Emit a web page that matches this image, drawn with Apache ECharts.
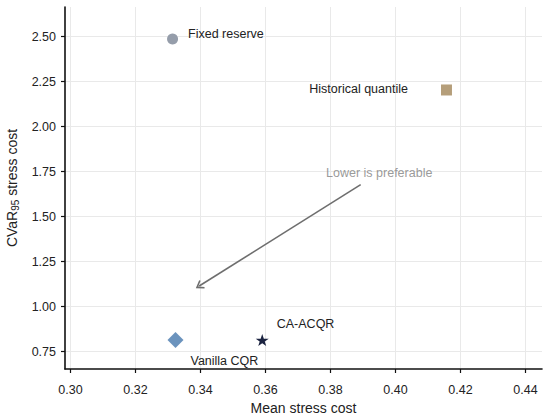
<!DOCTYPE html>
<html>
<head>
<meta charset="utf-8">
<style>
  html, body { margin: 0; padding: 0; background: #fff; }
  #chart { width: 550px; height: 419px; }
</style>
<script src="https://cdn.jsdelivr.net/npm/echarts@6/dist/echarts.min.js"></script>
</head>
<body>
<div id="chart"></div>
<script>
// method results: mean stress cost vs CVaR95 stress cost
var methods = ['Fixed reserve', 'Historical quantile', 'Vanilla CQR', 'CA-ACQR'];
var meanCost = [0.3314, 0.4157, 0.3323, 0.3590];
var cvarCost = [2.487, 2.204, 0.815, 0.815];

// tick labels
var xTicks = [0.30, 0.32, 0.34, 0.36, 0.38, 0.40, 0.42, 0.44];
var yTicks = [0.75, 1.00, 1.25, 1.50, 1.75, 2.00, 2.25, 2.50];

// annotation arrow (data units)
var arrowFrom = [0.3893, 1.678];
var arrowTo = [0.3396, 1.115];
var noteText = 'Lower is preferable';
var notePos = [0.3950, 1.743];

var starPath = 'path://M50,0 L61.8,35.1 L98.1,35.1 L68.8,56.8 L79.4,90.5 L50,69.1 L20.6,90.5 L31.2,56.8 L1.9,35.1 L38.2,35.1 Z';
var chevron = 'path://M5,0 L10,8 L8.7,9 L5,3.3 L1.3,9 L0,8 Z';

var styles = [
    { symbol: 'circle', size: 11, color: '#959daa', label: { position: 'right', distance: 10, offset: [0, -5] } },
    { symbol: 'rect', size: 11, color: '#b59e7a', label: { position: 'left', distance: 33, offset: [0, -1] } },
    { symbol: 'diamond', size: 16, color: '#6b93bd', label: { position: 'right', distance: 7, offset: [0, 21] } },
    { symbol: starPath, size: [13, 12], color: '#1b2340', label: { position: 'right', distance: 8, offset: [0, -16] } }
];

var dom = document.getElementById('chart');
var myChart = echarts.init(dom, null, { renderer: 'svg' });

var series = methods.map(function (name, i) {
    var s = styles[i];
    return {
        name: name,
        type: 'scatter',
        symbol: s.symbol,
        symbolSize: s.size,
        itemStyle: { color: s.color, opacity: 1 },
        label: {
            show: true,
            formatter: name,
            position: s.label.position,
            distance: s.label.distance,
            offset: s.label.offset,
            color: '#222',
            fontSize: 12.5,
            fontFamily: 'Liberation Sans'
        },
        data: [[meanCost[i], cvarCost[i]]]
    };
});

series.push({
    name: 'note',
    type: 'scatter',
    symbolSize: 0,
    silent: true,
    label: {
        show: true,
        position: 'inside',
        formatter: noteText,
        color: '#808080',
        fontSize: 12.5,
        fontFamily: 'Liberation Sans'
    },
    data: [notePos],
    markLine: {
        silent: true,
        symbol: ['none', chevron],
        symbolSize: [10, 8],
        label: { show: false },
        lineStyle: { color: '#6e6e6e', width: 1.6, type: 'solid' },
        data: [[{ coord: arrowFrom }, { coord: arrowTo }]]
    }
});

var option = {
    animation: false,
    grid: { left: 65, right: 8, top: 7, bottom: 50, containLabel: false, outerBoundsMode: 'none' },
    xAxis: {
        type: 'value',
        min: 0.2983,
        max: 0.4451,
        name: 'Mean stress cost',
        nameLocation: 'middle',
        nameGap: 32,
        nameTextStyle: { color: '#222', fontSize: 14, fontFamily: 'Liberation Sans' },
        axisLine: { show: true, onZero: false, lineStyle: { color: '#111', width: 1.6 } },
        axisTick: { show: true, length: 4, customValues: xTicks, lineStyle: { color: '#111', width: 1.2 } },
        axisLabel: {
            customValues: xTicks,
            margin: 14,
            color: '#222',
            fontSize: 12.5,
            fontFamily: 'Liberation Sans',
            formatter: function (v) { return v.toFixed(2); }
        },
        splitLine: { show: true, lineStyle: { color: '#e9e9e9', width: 1 } }
    },
    yAxis: {
        type: 'value',
        min: 0.654,
        max: 2.665,
        name: '{a|CVaR}{b|95}{a| stress cost}',
        nameLocation: 'middle',
        nameGap: 44,
        nameTextStyle: {
            color: '#222',
            fontFamily: 'Liberation Sans',
            rich: {
                a: { fontSize: 14, lineHeight: 18, color: '#222', fontFamily: 'Liberation Sans' },
                b: { fontSize: 10, lineHeight: 10, verticalAlign: 'bottom', color: '#222', fontFamily: 'Liberation Sans' }
            }
        },
        axisLine: { show: true, onZero: false, lineStyle: { color: '#111', width: 1.6 } },
        axisTick: { show: true, length: 4, customValues: yTicks, lineStyle: { color: '#111', width: 1.2 } },
        axisLabel: {
            customValues: yTicks,
            margin: 9,
            color: '#222',
            fontSize: 12.5,
            fontFamily: 'Liberation Sans',
            formatter: function (v) { return v.toFixed(2); }
        },
        splitLine: { show: true, lineStyle: { color: '#e9e9e9', width: 1 } }
    },
    series: series
};

if (option && typeof option === 'object') {
    myChart.setOption(option);
}

window.addEventListener('resize', myChart.resize);
</script>
</body>
</html>
